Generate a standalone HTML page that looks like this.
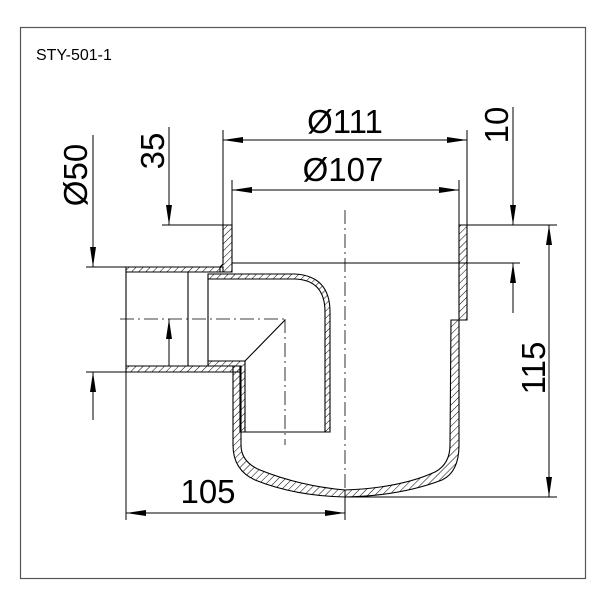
<!DOCTYPE html>
<html><head><meta charset="utf-8"><style>
html,body{margin:0;padding:0;background:#fff}
svg{display:block}
text{font-family:"Liberation Sans",Arial,sans-serif;fill:#000}
</style></head><body>
<svg width="600" height="600" viewBox="0 0 600 600" xmlns="http://www.w3.org/2000/svg">
<defs>
<pattern id="h" width="5" height="5" patternUnits="userSpaceOnUse" patternTransform="rotate(45)">
<line x1="0" y1="0" x2="0" y2="5" stroke="#000" stroke-width="1"/>
</pattern>
<marker id="a" viewBox="0 0 20 6" refX="20" refY="3" markerWidth="20" markerHeight="7" markerUnits="userSpaceOnUse" orient="auto-start-reverse">
<path d="M0,0 L20,3 L0,6 Z" fill="#000"/>
</marker>
</defs>
<rect x="20.5" y="27.5" width="565" height="551" fill="none" stroke="#555" stroke-width="1.2"/>
<text x="36" y="60" font-size="16">STY-501-1</text>

<g stroke="#000" stroke-width="1.1" fill="url(#h)">
<path d="M223,225 L232,225 L232,263 L232,272 L220,272 L220,267 L223,264 Z"/>
<path d="M126,267 L223,267 L223,272 L126,272 Z"/>
<path d="M126,366 L240,366 L240,372 L126,372 Z"/>
<path d="M233,366 L241,366 L241,445 Q241,462 260,470 Q300,486 345,490 Q400,488 435,472 Q450,464 450,445 L451,320 L459,320 L459,445 Q459,472 442,480 Q400,496 345,497 Q295,496 255,480 Q233,470 233,445 Z"/>
<path d="M459,225 L467,225 L467,320 L459,320 Z"/>
<path d="M208,274 L295,274 Q330,276 330,312 L330,432 L325,432 L325,312 Q325,280 295,279 L208,279 Z"/>
<path d="M208,361 L245,361 L245,432 L240,432 L240,366 L208,366 Z"/>
</g>
<g stroke="#000" stroke-width="1.1" fill="none">
<line x1="126" y1="272" x2="126" y2="366"/>
<line x1="188" y1="272" x2="188" y2="366"/>
<line x1="208" y1="279" x2="208" y2="361"/>
<line x1="245" y1="432" x2="325" y2="432"/>
<line x1="245" y1="361" x2="285" y2="320"/>
<line x1="232" y1="263" x2="520" y2="263"/>
<line x1="162" y1="225" x2="232" y2="225"/>
<line x1="459" y1="225" x2="557" y2="225"/>
<line x1="345" y1="497" x2="557" y2="497"/>
</g>
<g stroke="#000" stroke-width="0.8" fill="none" stroke-dasharray="14,4,2,4">
<line x1="345" y1="210" x2="345" y2="505"/>
<line x1="120" y1="319" x2="285" y2="319"/>
<line x1="285" y1="319" x2="285" y2="445"/>
</g>
<g stroke="#000" stroke-width="1" fill="none">
<line x1="223" y1="130" x2="223" y2="225"/>
<line x1="467" y1="130" x2="467" y2="225"/>
<line x1="232" y1="180" x2="232" y2="225"/>
<line x1="459" y1="180" x2="459" y2="225"/>
<line x1="223" y1="140" x2="467" y2="140" marker-start="url(#a)" marker-end="url(#a)"/>
<line x1="232" y1="190" x2="459" y2="190" marker-start="url(#a)" marker-end="url(#a)"/>
<line x1="513" y1="107" x2="513" y2="225" marker-end="url(#a)"/>
<line x1="513" y1="313" x2="513" y2="263" marker-end="url(#a)"/>
<line x1="549" y1="225" x2="549" y2="497" marker-start="url(#a)" marker-end="url(#a)"/>
<line x1="86" y1="267" x2="126" y2="267"/>
<line x1="86" y1="372" x2="126" y2="372"/>
<line x1="93" y1="135" x2="93" y2="267" marker-end="url(#a)"/>
<line x1="93" y1="420" x2="93" y2="372" marker-end="url(#a)"/>
<line x1="169" y1="127" x2="169" y2="225" marker-end="url(#a)"/>
<line x1="169" y1="366" x2="169" y2="319" marker-end="url(#a)"/>
<line x1="126" y1="372" x2="126" y2="520"/>
<line x1="345" y1="490" x2="345" y2="520"/>
<line x1="126" y1="513" x2="345" y2="513" marker-start="url(#a)" marker-end="url(#a)"/>
</g>
<g font-size="33" text-anchor="middle">
<text x="345" y="133">Ø111</text>
<text x="343" y="181">Ø107</text>
<text x="208" y="503">105</text>
<text transform="translate(508,125) rotate(-90)">10</text>
<text transform="translate(545,368) rotate(-90)">115</text>
<text transform="translate(87,175) rotate(-90)">Ø50</text>
<text transform="translate(164,151) rotate(-90)">35</text>
</g>
</svg>
</body></html>
